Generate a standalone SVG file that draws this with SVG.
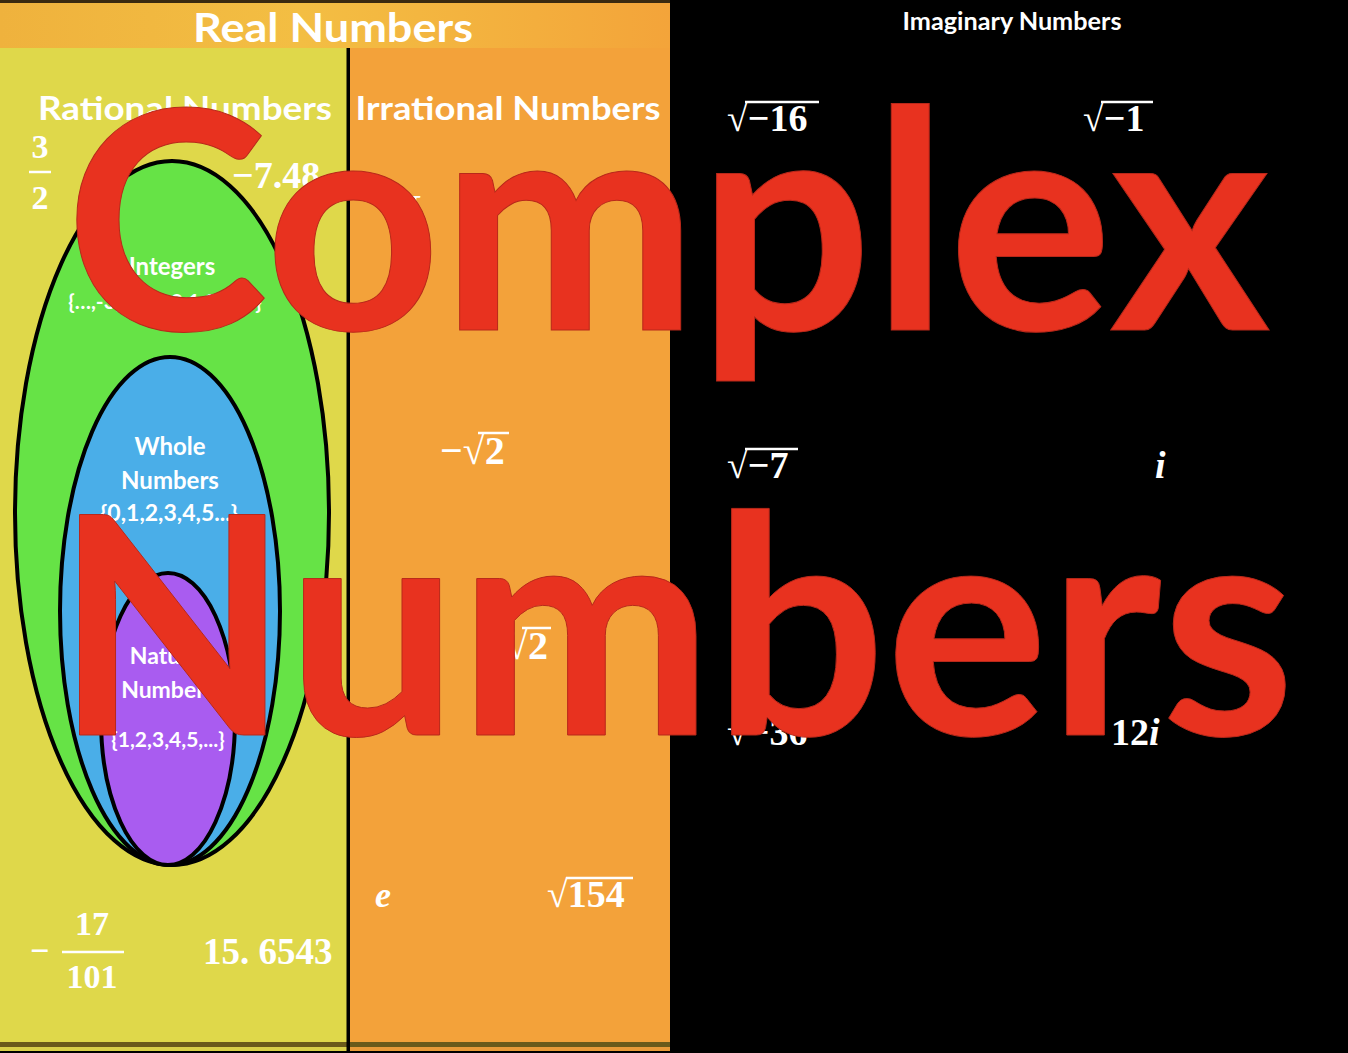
<svg xmlns="http://www.w3.org/2000/svg" width="1348" height="1053" viewBox="0 0 1348 1053">
  <defs>
    <linearGradient id="hdr" x1="0" y1="0" x2="1" y2="0">
      <stop offset="0" stop-color="#efb23d"/>
      <stop offset="0.45" stop-color="#f3be43"/>
      <stop offset="0.8" stop-color="#f3ae3d"/>
      <stop offset="1" stop-color="#f3a43a"/>
    </linearGradient>
  </defs>
  <style>
    .comic { font-family: "Lato", "Noto Sans", sans-serif; font-weight: 700; fill: #ffffff; }
    .math { font-family: "Liberation Serif", "DejaVu Serif", serif; font-weight: 700; fill: #ffffff; }
    .it { font-style: italic; }
    .bar { stroke: #ffffff; stroke-width: 2.5; fill: none; }
    .ell { stroke: #000000; stroke-width: 4; }
    .big { font-family: "Lato", "Open Sans", sans-serif; font-weight: 700; fill: #e8321f; stroke: #b8281a; stroke-width: 1; }
  </style>

  <!-- backgrounds -->
  <rect x="0" y="0" width="1348" height="1053" fill="#000000"/>
  <rect x="0" y="48" width="348" height="1000" fill="#dfd84a"/>
  <rect x="350" y="48" width="320" height="1000" fill="#f3a23a"/>
  <rect x="0" y="2" width="670" height="46" fill="url(#hdr)"/>
  <rect x="0" y="0" width="670" height="3" fill="#3a2a10"/>
  <rect x="0" y="1042" width="670" height="5" fill="#6a5a1a"/>
  <rect x="0" y="1047" width="348" height="4" fill="#d8cf48"/>
  <rect x="350" y="1047" width="320" height="4" fill="#e89a38"/>
  <rect x="346.5" y="48" width="3.5" height="1005" fill="#000000"/>

  <!-- nested ellipses -->
  <g id="integers-set">
    <ellipse cx="172" cy="513" rx="157" ry="352" fill="#66e346" class="ell"/>
  </g>
  <g id="whole-set">
    <ellipse cx="170" cy="611" rx="110" ry="254" fill="#4aaee8" class="ell"/>
  </g>
  <g id="natural-set">
    <ellipse cx="168" cy="719" rx="67" ry="146" fill="#a95cf0" class="ell"/>
  </g>

  <!-- headings -->
  <text class="comic" x="333" y="42" font-size="40" text-anchor="middle" textLength="280" lengthAdjust="spacingAndGlyphs">Real Numbers</text>
  <text class="comic" x="185" y="120" font-size="33" text-anchor="middle" textLength="294" lengthAdjust="spacingAndGlyphs">Rational Numbers</text>
  <text class="comic" x="508" y="120" font-size="33" text-anchor="middle" textLength="305" lengthAdjust="spacingAndGlyphs">Irrational Numbers</text>
  <text class="comic" x="1012" y="30" font-size="24" text-anchor="middle" textLength="219" lengthAdjust="spacingAndGlyphs">Imaginary Numbers</text>

  <!-- set labels -->
  <text class="comic" x="172" y="275" font-size="24" text-anchor="middle">Integers</text>
  <text class="comic" x="165" y="309" font-size="21" text-anchor="middle">{…,-3,-2,-1,0,1,2,3,…}</text>
  <text class="comic" x="170" y="455" font-size="24" text-anchor="middle">Whole</text>
  <text class="comic" x="170" y="489" font-size="24" text-anchor="middle">Numbers</text>
  <text class="comic" x="169" y="521" font-size="23" text-anchor="middle">{0,1,2,3,4,5...}</text>
  <text class="comic" x="168" y="664" font-size="23" text-anchor="middle">Natural</text>
  <text class="comic" x="168" y="698" font-size="23" text-anchor="middle">Numbers</text>
  <text class="comic" x="168" y="747" font-size="21" text-anchor="middle">{1,2,3,4,5,...}</text>

  <!-- rational examples -->
  <text class="math" x="40" y="158" font-size="34" text-anchor="middle">3</text>
  <line x1="29" y1="172" x2="51" y2="172" class="bar"/>
  <text class="math" x="40" y="209" font-size="34" text-anchor="middle">2</text>
  <text class="math" x="232" y="188" font-size="38">−7.48</text>
  <text class="math" x="30" y="962" font-size="34">−</text>
  <text class="math" x="92" y="935" font-size="34" text-anchor="middle">17</text>
  <line x1="62" y1="952" x2="124" y2="952" class="bar"/>
  <text class="math" x="92" y="988" font-size="34" text-anchor="middle">101</text>
  <text class="math" x="203" y="964" font-size="37">15. 6543</text>

  <!-- irrational examples -->
  <text class="math it" x="400" y="213" font-size="36">π</text>
  <text class="math" x="440" y="464" font-size="40">−√2</text>
  <line x1="478" y1="433" x2="509" y2="433" class="bar"/>
  <text class="math" x="507" y="637" font-size="16">3</text>
  <text class="math" x="506" y="659" font-size="40">√2</text>
  <line x1="522" y1="628" x2="551" y2="628" class="bar"/>
  <text class="math it" x="375" y="907" font-size="36">e</text>
  <text class="math" x="547" y="907" font-size="38">√154</text>
  <line x1="566" y1="878" x2="633" y2="878" class="bar"/>

  <!-- imaginary examples -->
  <text class="math" x="727" y="131" font-size="38">√−16</text>
  <line x1="745" y1="102" x2="819" y2="102" class="bar"/>
  <text class="math" x="1083" y="131" font-size="38">√−1</text>
  <line x1="1101" y1="102" x2="1153" y2="102" class="bar"/>
  <text class="math" x="727" y="478" font-size="38">√−7</text>
  <line x1="745" y1="449" x2="798" y2="449" class="bar"/>
  <text class="math it" x="1155" y="478" font-size="38">i</text>
  <text class="math" x="727" y="745" font-size="38">√−36</text>
  <line x1="745" y1="716" x2="819" y2="716" class="bar"/>
  <text class="math" x="1111" y="745" font-size="38">12<tspan class="it">i</tspan></text>

  <!-- overlay title -->
  <text class="big" x="65" y="330" font-size="305" textLength="1205" lengthAdjust="spacingAndGlyphs">Complex</text>
  <text class="big" x="55" y="735" font-size="305" textLength="1240" lengthAdjust="spacingAndGlyphs">Numbers</text>
</svg>
